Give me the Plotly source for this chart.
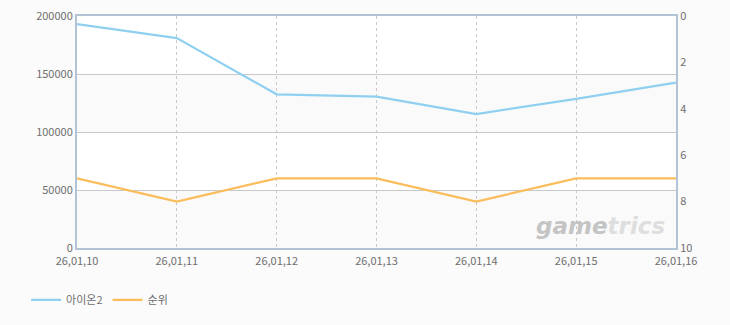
import plotly.graph_objects as go

categories = ["26,01,10", "26,01,11", "26,01,12", "26,01,13", "26,01,14", "26,01,15", "26,01,16"]
aion2 = [193000, 181000, 132500, 130500, 115500, 128500, 142500]
rank = [7, 8, 7, 7, 8, 7, 7]
series_names = ["아이온2", "순위"]

FONT = "Noto Sans CJK KR, DejaVu Sans, sans-serif"
AXIS_C = "#b3c3d6"
TICK_C = "#6e6e6e"

fig = go.Figure()
fig.add_trace(go.Scatter(x=categories, y=aion2, name=series_names[0], mode="lines",
                         line=dict(color="#8fd0f0", width=2.2)))
fig.add_trace(go.Scatter(x=categories, y=rank, name=series_names[1], mode="lines",
                         line=dict(color="#fbbd5c", width=2.2), yaxis="y2"))

# alternating bands
for lo, hi in [(0, 50000), (100000, 150000)]:
    fig.add_shape(type="rect", xref="paper", yref="y", x0=0, x1=1, y0=lo, y1=hi,
                  fillcolor="#fafafa", line=dict(width=0), layer="below")

fig.add_annotation(text="<i><b><span style='color:#c4c4c4'>game</span></b><b>trics</b></i>",
                   xref="paper", yref="paper", x=0.985, y=0.03,
                   xanchor="right", yanchor="bottom", showarrow=False,
                   font=dict(family="DejaVu Sans, sans-serif", size=23, color="#dedede"))

fig.update_layout(
    width=730, height=325,
    margin=dict(l=77, r=54, t=16, b=77, autoexpand=False),
    paper_bgcolor="#fbfbfb", plot_bgcolor="#ffffff",
    font=dict(family=FONT, size=11, color=TICK_C),
    showlegend=True,
    legend=dict(orientation="h", x=-0.085, y=-0.224, xanchor="left", yanchor="middle",
                font=dict(size=11, color=TICK_C), itemwidth=30),
    xaxis=dict(type="category", range=[0, 6], showgrid=True, gridcolor="#c8c8c8",
               griddash="3px,3px", gridwidth=1, showline=True, linecolor=AXIS_C, linewidth=2,
               mirror=True, ticks="", tickfont=dict(size=11, color=TICK_C), zeroline=False,
               ticklabelstandoff=2),
    yaxis=dict(range=[0, 200000], dtick=50000, showgrid=True, gridcolor="#c8c8c8",
               gridwidth=1, showline=True, linecolor=AXIS_C, linewidth=2, ticks="",
               tickformat="d", zeroline=False, tickfont=dict(size=11, color=TICK_C)),
    yaxis2=dict(range=[10, 0], dtick=2, overlaying="y", side="right", showgrid=False,
                showline=True, linecolor=AXIS_C, linewidth=2, ticks="", zeroline=False,
                tickfont=dict(size=11, color=TICK_C)),
)

fig.write_html("out.html")
